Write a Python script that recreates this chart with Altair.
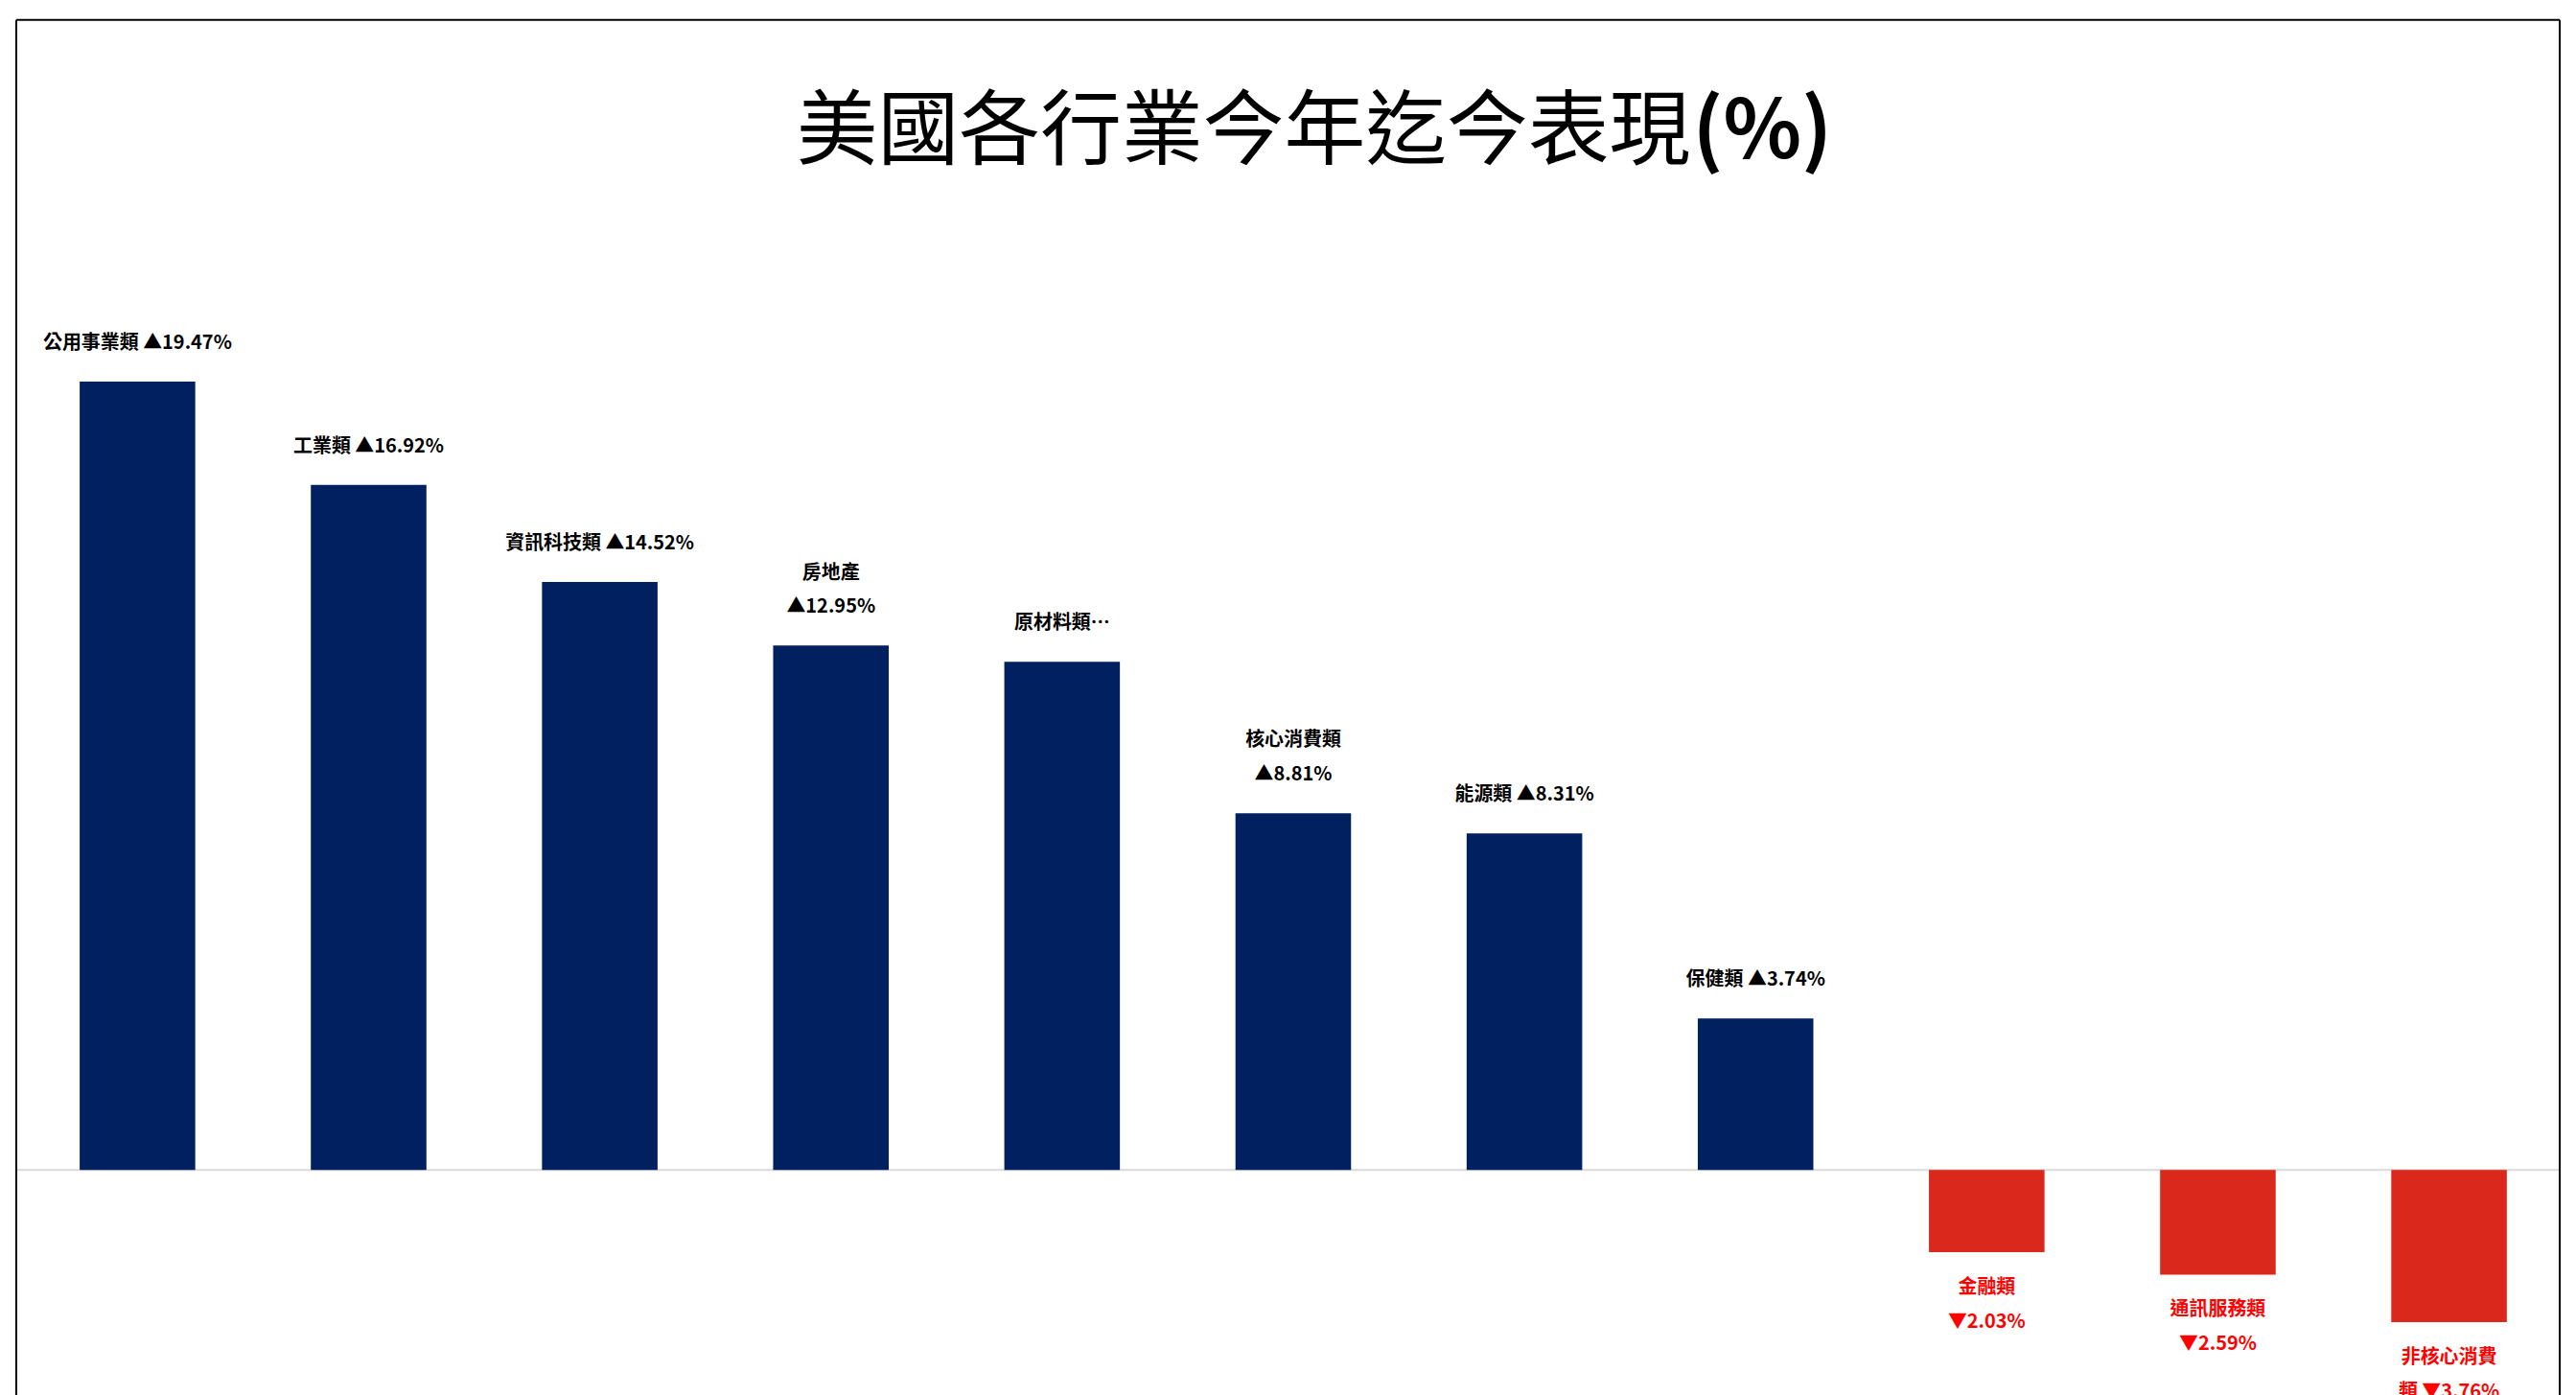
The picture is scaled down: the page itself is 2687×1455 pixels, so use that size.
import altair as alt
import pandas as pd

# ---- data ----
sectors = ["公用事業類", "工業類", "資訊科技類", "房地產", "原材料類", "核心消費類",
           "能源類", "保健類", "金融類", "通訊服務類", "非核心消費類"]
values = [19.47, 16.92, 14.52, 12.95, 12.55, 8.81, 8.31, 3.74, -2.03, -2.59, -3.76]
labels = ["公用事業類 ▲19.47%", "工業類 ▲16.92%", "資訊科技類 ▲14.52%", "房地產\n▲12.95%",
          "原材料類…", "核心消費類\n▲8.81%", "能源類 ▲8.31%", "保健類 ▲3.74%",
          "金融類\n▼2.03%", "通訊服務類\n▼2.59%", "非核心消費\n類 ▼3.76%"]
title_main = "美國各行業今年迄今表現"
title_unit = "(%)"

df = pd.DataFrame({"sector": sectors, "value": values, "label": labels})
one = pd.DataFrame({"k": [0]})

FONT = "Noto Sans CJK TC"
W, H = 2667, 1436
NAVY = "#002060"
RED_BAR = "#DA291C"
RED_TXT = "#FF0000"
L0, R0 = -2, 2658   # frame left / right inside the plot area

xenc = alt.X("sector:N", sort=None, axis=None,
             scale=alt.Scale(paddingInner=0.5, paddingOuter=0.266, round=False))
yscale = alt.Scale(domain=[-5.515, 28.40], nice=False, zero=False)
yenc = alt.Y("value:Q", scale=yscale, axis=None)

base = alt.Chart(df).transform_calculate(
    last_line="peek(split(datum.label, '\\n'))",
    first_line="length(split(datum.label, '\\n')) > 1 ? split(datum.label, '\\n')[0] : ''",
)

bars = base.mark_bar().encode(
    x=xenc, y=yenc, y2=alt.datum(0),
    color=alt.condition(alt.datum.value >= 0, alt.value(NAVY), alt.value(RED_BAR)),
)

txt_style = dict(font=FONT, fontSize=20, fontWeight="bold", align="center")

pos = base.transform_filter(alt.datum.value >= 0)
pos_last = pos.mark_text(color="#000000", baseline="bottom", dy=-30, **txt_style).encode(
    x=xenc, y=yenc, text="last_line:N")
pos_first = pos.mark_text(color="#000000", baseline="bottom", dy=-66, **txt_style).encode(
    x=xenc, y=yenc, text="first_line:N")

neg_labels = base.transform_filter(alt.datum.value < 0).mark_text(
    color=RED_TXT, baseline="top", dy=27, lineBreak="\n", lineHeight=36, **txt_style
).encode(x=xenc, y=yenc, text="label:N")

zero_rule = alt.Chart(one).mark_rule(color="#D9D9D9", strokeWidth=2).encode(
    y=alt.Y("k:Q", scale=yscale, axis=None),
    x=alt.value(L0), x2=alt.value(R0),
)

frame_left = alt.Chart(one).mark_rule(color="#000000", strokeWidth=2).encode(
    x=alt.value(L0), y=alt.value(0), y2=alt.value(H + 20))
frame_top = alt.Chart(one).mark_rule(color="#000000", strokeWidth=2).encode(
    x=alt.value(L0), x2=alt.value(R0), y=alt.value(0))
frame_right = alt.Chart(one).mark_rule(color="#000000", strokeWidth=2).encode(
    x=alt.value(R0), y=alt.value(0), y2=alt.value(H + 20))

t1 = alt.Chart(one).mark_text(font=FONT, fontSize=85, fontWeight="normal",
                              align="left", baseline="middle", color="#000000").encode(
    x=alt.value(814), y=alt.value(119), text=alt.value(title_main))
t2 = alt.Chart(one).mark_text(font=FONT, fontSize=85, fontWeight="bold",
                              align="left", baseline="middle", color="#000000").encode(
    x=alt.value(1751), y=alt.value(119), text=alt.value(title_unit))

chart = alt.layer(
    zero_rule, bars, pos_last, pos_first, neg_labels,
    frame_left, frame_top, frame_right, t1, t2
).properties(
    width=W, height=H,
    padding={"left": 11, "top": 11, "right": 0, "bottom": 0},
    autosize=alt.AutoSizeParams(type="none"),
    background="#FFFFFF",
).configure_view(strokeWidth=0)

chart.save("out.html", embed_options={"renderer": "svg", "actions": False})
